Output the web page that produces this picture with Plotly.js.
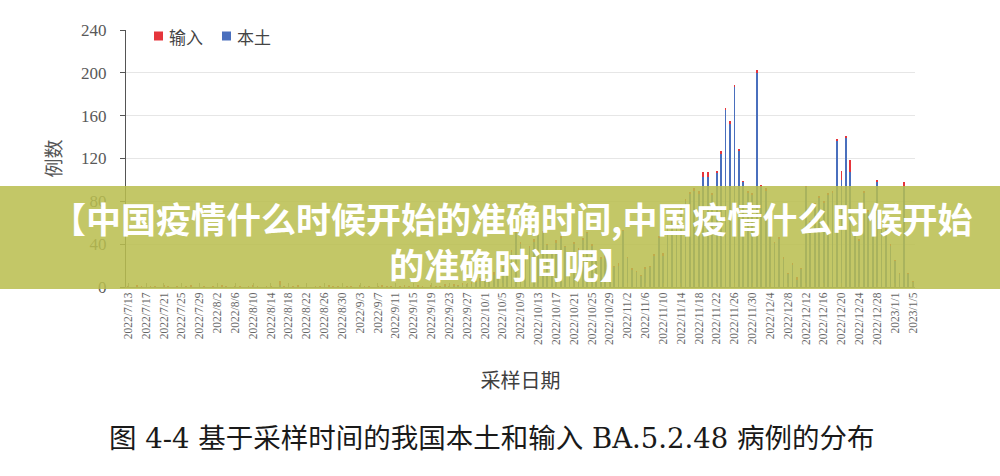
<!DOCTYPE html>
<html>
<head>
<meta charset="utf-8">
<script src="https://cdn.plot.ly/plotly-3.0.1.min.js"></script>
<style>
  html, body { margin: 0; padding: 0; background: #fff; }
  #chart { width: 1000px; height: 476px; }
</style>
</head>
<body>
<div id="chart"></div>
<script>
// ---- data ----
const startDate = '2022/7/13';
const endDate = '2023/1/5';

const tickLabels = [
  '2022/7/13','2022/7/17','2022/7/21','2022/7/25','2022/7/29','2022/8/2','2022/8/6','2022/8/10',
  '2022/8/14','2022/8/18','2022/8/22','2022/8/26','2022/8/30','2022/9/3','2022/9/7','2022/9/11',
  '2022/9/15','2022/9/19','2022/9/23','2022/9/27','2022/10/1','2022/10/5','2022/10/9','2022/10/13',
  '2022/10/17','2022/10/21','2022/10/25','2022/10/29','2022/11/2','2022/11/6','2022/11/10','2022/11/14',
  '2022/11/18','2022/11/22','2022/11/26','2022/11/30','2022/12/4','2022/12/8','2022/12/12','2022/12/16',
  '2022/12/20','2022/12/24','2022/12/28','2023/1/1','2023/1/5'
];

const seriesNames = ['输入', '本土'];
const seriesColors = ['#e5353c', '#4a6fbd'];

// 本土 (local) cases per sampling day, 2022/7/13 .. 2023/1/5
const localCases = [
  0,0,0,0,0,0,0,0,0,0, 0,0,0,0,0,0,0,0,0,0, 0,0,0,0,0,0,0,0,0,0, 0,0,0,0,2,0,0,0,0,0,
  0,0,0,0,0,0,0,0,0,0, 0,0,0,0,0,0,0,0,0,0, 0,0,0,0,0,0,0,0,0,0, 0,1,0,1,1,2,
  2,3,5,6,6,8,11,11,18,25,
  33,50,40,29,36,42,53,50,39,33,
  41,46,37,30,40,33,44,50,38,32,
  26,27,23,19,20,52,27,16,14,10,
  17,19,29,46,29,54,60,66,73,80,
  87,90,87,103,103,86,106,124,165,152,
  187,127,98,88,86,200,93,90,64,41,
  45,26,12,21,7,17,93,60,76,83,
  78,86,88,136,100,139,107,48,43,88,
  70,58,98,60,53,38,24,12,93,12,
  5
];

// 输入 (imported) cases per sampling day
const importCases = [
  1,0,2,1,0,1,1,0,2,1, 0,1,0,1,2,0,1,1,0,1, 0,2,1,0,1,1,0,1,2,1, 0,1,1,0,4,1,0,1,2,0,
  1,0,1,1,0,2,1,1,0,1, 1,0,2,1,1,0,1,2,1,1, 0,1,2,1,1,2,1,0,2,1, 1,2,1,2,1,2,
  1,2,1,2,1,2,3,1,2,3,
  2,3,2,1,2,3,2,2,1,2,
  3,2,1,2,2,3,2,1,2,1,
  2,3,2,1,2,1,1,2,1,1,
  2,1,2,2,3,2,2,3,2,2,
  2,2,3,4,4,2,2,3,2,3,
  2,2,1,2,2,3,2,2,1,1,
  2,2,1,1,2,1,1,2,2,2,
  2,2,2,2,8,2,12,2,2,2,
  2,2,2,2,2,2,1,1,5,1,
  1
];

// category labels: every sampling day between startDate and endDate
const dates = [];
(function () {
  const p = startDate.split('/').map(Number);
  const q = endDate.split('/').map(Number);
  let d = new Date(Date.UTC(p[0], p[1] - 1, p[2]));
  const e = new Date(Date.UTC(q[0], q[1] - 1, q[2]));
  while (d <= e) {
    dates.push(d.getUTCFullYear() + '/' + (d.getUTCMonth() + 1) + '/' + d.getUTCDate());
    d = new Date(d.getTime() + 86400000);
  }
})();

// ---- geometry helpers (pixel -> paper) ----
const W = 1000, H = 476;
const M = { l: 126, r: 85, t: 30, b: 189 };
const PW = W - M.l - M.r, PH = H - M.t - M.b;
const px = x => (x - M.l) / PW;
const py = y => (H - M.b - y) / PH;

const traces = [
  {
    type: 'bar', name: seriesNames[1], x: dates, y: localCases,
    marker: { color: seriesColors[1] }, hoverinfo: 'x+y+name'
  },
  {
    type: 'bar', name: seriesNames[0], x: dates, y: importCases,
    marker: { color: seriesColors[0] }, hoverinfo: 'x+y+name'
  }
];

// custom legend (square + label), positioned like the reference
const legendShapes = [], legendNotes = [];
const legendX = [154, 222];
seriesNames.forEach((nm, i) => {
  legendShapes.push({
    type: 'rect', xref: 'paper', yref: 'paper', layer: 'above',
    x0: px(legendX[i]), x1: px(legendX[i] + 9), y0: py(40.5), y1: py(31.5),
    fillcolor: seriesColors[i], line: { width: 0 }
  });
  legendNotes.push({
    xref: 'paper', yref: 'paper', x: px(legendX[i] + 13), y: py(36),
    xanchor: 'left', yanchor: 'middle', showarrow: false, text: nm,
    font: { size: 17, color: '#444', family: 'Noto Sans CJK SC' }
  });
});

const layout = {
  width: W, height: H,
  margin: M,
  paper_bgcolor: '#ffffff', plot_bgcolor: '#ffffff',
  font: { family: 'Noto Sans CJK SC, Noto Sans, sans-serif', color: '#444' },
  barmode: 'stack',
  bargap: 0.6,
  showlegend: false,
  xaxis: {
    type: 'category',
    tickmode: 'array', tickvals: tickLabels, ticktext: tickLabels,
    tickangle: -90,
    tickfont: { family: 'Liberation Serif, serif', size: 11.5, color: '#666' },
    ticks: 'inside', ticklen: 4, tickcolor: '#888',
    showline: true, linecolor: '#8a8a8a', linewidth: 1,
    showgrid: false, zeroline: false, automargin: false,
    title: { text: '采样日期', font: { size: 20, color: '#404040' }, standoff: 30 }
  },
  yaxis: {
    range: [0, 240], tickmode: 'array', tickvals: [0, 40, 80, 120, 160, 200, 240],
    tickfont: { family: 'Liberation Serif, serif', size: 17, color: '#595959' },
    ticks: 'outside', ticklen: 5, tickcolor: '#555',
    ticklabelstandoff: 10,
    showline: true, linecolor: '#555', linewidth: 1,
    showgrid: true, gridcolor: '#e6e6e6', gridwidth: 1,
    zeroline: false, automargin: false,
    title: { text: '例数', font: { size: 19, color: '#555' }, standoff: 14 }
  },
  shapes: [
    {
      type: 'rect', xref: 'paper', yref: 'paper', layer: 'above',
      x0: px(0), x1: px(1000), y0: py(289), y1: py(186),
      fillcolor: 'rgba(185,190,78,0.86)', line: { width: 0 }
    }
  ].concat(legendShapes),
  annotations: [
    {
      xref: 'paper', yref: 'paper', x: px(511), y: py(240), xanchor: 'center', yanchor: 'middle',
      text: '<b>【中国疫情什么时候开始的准确时间,中国疫情什么时候开始<br>的准确时间呢】</b>',
      showarrow: false, align: 'center',
      font: { size: 35, color: '#ffffff', family: 'Noto Sans CJK SC' }
    },
    {
      xref: 'paper', yref: 'paper', x: px(492), y: py(438), xanchor: 'center', yanchor: 'middle',
      text: '图 4-4 基于采样时间的我国本土和输入 BA.5.2.48 病例的分布', showarrow: false,
      font: { size: 27.5, color: '#1a1a1a', family: 'DejaVu Serif, Noto Sans CJK SC' }
    }
  ].concat(legendNotes)
};

Plotly.newPlot('chart', traces, layout, { displayModeBar: false, staticPlot: true });
</script>
</body>
</html>
